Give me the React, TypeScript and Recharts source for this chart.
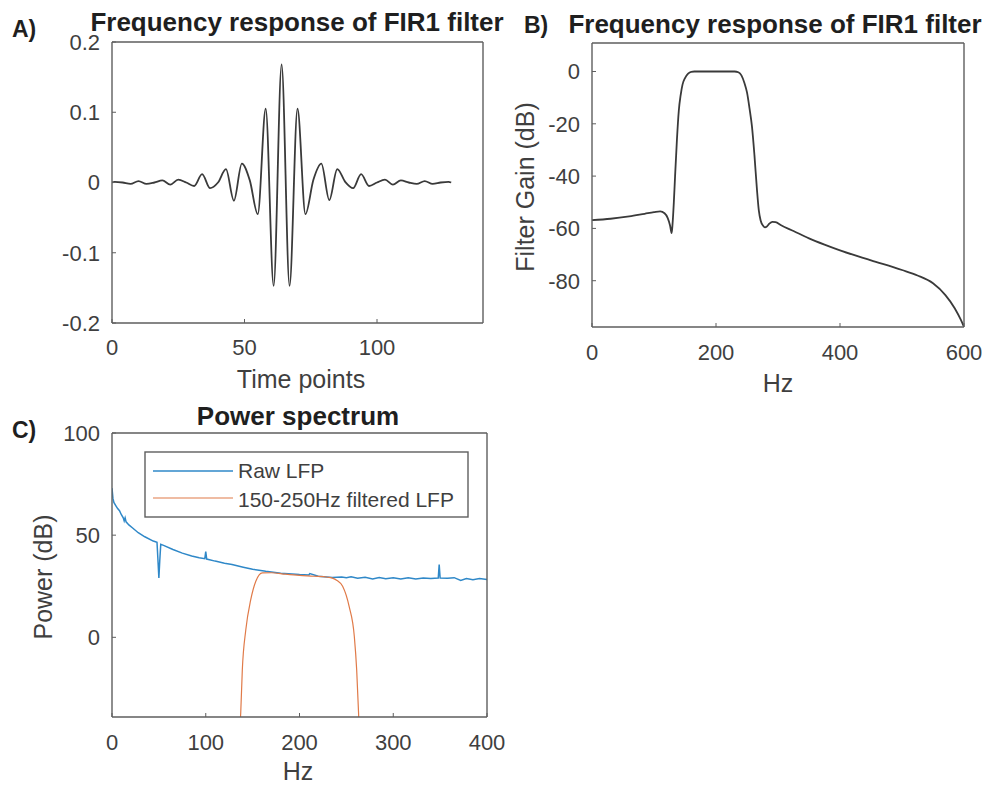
import React from 'react';
import { LineChart, Line, XAxis, YAxis } from 'recharts';

const FONT = '"Liberation Sans", Arial, Helvetica, sans-serif';
const AXIS = '#5e5e5e';
const TXT = '#3f3f3f';
const INK = '#1f1f1f';
const BLUE = '#2f88c8';
const ORANGE = '#e07a48';

// A) FIR1 impulse response (extrema read off the figure)
const firTime = [0, 1, 4, 7, 10, 13, 16, 19, 22, 25, 28, 31, 34, 37, 40, 43, 46, 49, 52, 55, 58, 61, 64,
  67, 70, 73, 76, 79, 82, 85, 88, 91, 94, 97, 100, 103, 106, 109, 112, 115, 118, 121, 124, 127, 128];
const firCoef = [0, 0.001, 0.0, -0.002, 0.002, -0.002, 0.0, 0.003, -0.003, 0.004, 0.0, -0.005, 0.012, -0.008, 0.0,
  0.019, -0.026, 0.027, 0.003, -0.045, 0.105, -0.147, 0.168,
  -0.147, 0.105, -0.045, 0.004, 0.027, -0.025, 0.019, 0.001, -0.008, 0.012, -0.005, 0.0, 0.004, -0.003,
  0.003, 0.0, -0.002, 0.002, -0.002, 0.0, 0.001, 0.0];
const firXTicks = [0, 50, 100];
const firYTicks = [-0.2, -0.1, 0, 0.1, 0.2];

// B) filter gain
const gainHz = [0, 30, 60, 85, 100, 110, 117, 122, 126, 128.5, 130, 132, 134, 137, 140, 143, 146, 150, 155, 160,
  165, 200, 230, 236, 241, 246, 250, 254, 258, 262, 266, 269, 272, 276, 279, 282, 286, 291, 296, 305, 325,
  350, 375, 400, 450, 500, 525, 550, 570, 585, 595, 600];
const gainDb = [-56.8, -56.3, -55.4, -54.4, -53.8, -53.5, -54.2, -56, -59, -61.8, -58, -50, -40, -26, -15, -9, -5,
  -2.5, -0.8, -0.1, 0, 0, 0, -0.3, -1.5, -4.5, -8, -14, -21, -32, -45, -53, -57, -59, -59.6, -59.3, -58.2,
  -57.5, -57.6, -58.8, -61, -63.8, -66.2, -68.4, -72.2, -75.9, -78, -81, -85.5, -90.5, -95, -97.7];
const gainXTicks = [0, 200, 400, 600];
const gainYTicks = [-80, -60, -40, -20, 0];

// C) power spectrum
const rawHz = [0, 1, 2, 4, 6, 8, 10, 12, 13, 14, 15, 18, 22, 28, 35, 44, 48, 49, 50, 51, 52, 55, 65, 75, 85, 93,
  99, 100, 101, 110, 120, 128, 140, 150, 164, 180, 200, 210, 211, 220, 235, 245, 250, 255, 262, 270, 278, 285,
  292, 300, 308, 316, 324, 332, 340, 348, 349, 350, 358, 365, 372, 378, 385, 392, 400];
const rawDb = [73, 68, 66, 64.5, 63, 62, 60, 58.5, 57, 58.5, 56.5, 55, 53.5, 51.2, 49.2, 47.1, 46.5, 38, 29, 38,
  45.5, 45, 43, 41.2, 39.8, 38.9, 38.5, 42, 38.3, 37.3, 36.3, 35.6, 34.3, 33.3, 32.3, 31.4, 30.7, 30.5, 31.2,
  29.9, 29.3, 29.5, 29.2, 29.6, 28.9, 29.4, 28.6, 29.3, 28.7, 29.1, 28.5, 29.2, 28.6, 29, 28.8, 29, 35.6, 29,
  28.9, 29.2, 27.8, 28.8, 28.2, 28.8, 28.3];
const filtHz = [135, 137.3, 139, 142.7, 148, 153.4, 160.4, 170, 185, 200, 215, 230, 235, 240, 246, 253, 258.5,
  261, 263, 264];
const filtDb = [-50, -37, -16, 3.6, 18.4, 27.4, 31.5, 31.6, 30.9, 30.3, 29.9, 29.4, 29, 27.8, 25, 15, 0.3,
  -16, -37, -50];
const psdXTicks = [0, 100, 200, 300, 400];
const psdYTicks = [0, 50, 100];

const zip = (xs: number[], ys: number[]) => xs.map((x, i) => ({ x, y: ys[i] }));
const firData = zip(firTime, firCoef);
const gainData = zip(gainHz, gainDb);
const rawData = zip(rawHz, rawDb);
const filtData = zip(filtHz, filtDb);

const tickStyle = { fill: TXT, fontSize: 22, fontFamily: FONT };
const axisLine = { stroke: AXIS, strokeWidth: 1.4 };

// box with inward ticks on all four sides, like matlab's "box on"
// (top / right axes need 1px of room or recharts skips them)
const frame = (xDomain: number[], yDomain: number[], xTicks: number[], yTicks: number[],
  xHeight: number, yWidth: number, xMargin: number) => [
  <XAxis key="xb" xAxisId="b" dataKey="x" type="number" domain={xDomain} ticks={xTicks} interval={0}
    height={xHeight} tickSize={-4} tickMargin={xMargin} axisLine={axisLine} tickLine={{ stroke: AXIS }}
    tick={tickStyle} allowDataOverflow />,
  <XAxis key="xt" xAxisId="t" orientation="top" dataKey="x" type="number" domain={xDomain} ticks={xTicks}
    interval={0} height={1} tickSize={-4} axisLine={axisLine} tickLine={{ stroke: AXIS }} tick={false}
    allowDataOverflow />,
  <YAxis key="yl" yAxisId="l" dataKey="y" type="number" domain={yDomain} ticks={yTicks} interval={0}
    width={yWidth} tickSize={-4} tickMargin={16} axisLine={axisLine} tickLine={{ stroke: AXIS }}
    tick={tickStyle} allowDataOverflow />,
  <YAxis key="yr" yAxisId="r" orientation="right" dataKey="y" type="number" domain={yDomain} ticks={yTicks}
    interval={0} width={1} tickSize={-4} axisLine={axisLine} tickLine={{ stroke: AXIS }} tick={false}
    allowDataOverflow />,
];

const pos = (left: number, top: number): React.CSSProperties => ({ position: 'absolute', left, top });

export default function App() {
  return (
    <div style={{ position: 'absolute', left: 0, top: 0, width: 987, height: 786, background: '#fff', fontFamily: FONT }}>
      <div style={pos(0, 0)}>
        <LineChart width={490} height={400} margin={{ top: 41, right: 6, bottom: 0, left: 0 }}>
          {frame([0, 140], [-0.2, 0.2], firXTicks, firYTicks, 77, 112, 20)}
          <Line xAxisId="b" yAxisId="l" data={firData} dataKey="y" type="monotone" stroke="#3a3a3a"
            strokeWidth={1.8} dot={false} isAnimationActive={false} />
        </LineChart>
      </div>

      <div style={pos(490, 0)}>
        <LineChart width={497} height={400} margin={{ top: 42, right: 22, bottom: 0, left: 0 }}>
          {frame([0, 600], [-97.7, 10.9], gainXTicks, gainYTicks, 73, 102, 21)}
          <Line xAxisId="b" yAxisId="l" data={gainData} dataKey="y" type="monotone" stroke="#3a3a3a"
            strokeWidth={1.8} dot={false} isAnimationActive={false} />
        </LineChart>
      </div>

      <div style={pos(0, 400)}>
        <LineChart width={530} height={386} margin={{ top: 32, right: 42, bottom: 0, left: 0 }}>
          {frame([0, 400], [-39, 100], psdXTicks, psdYTicks, 69, 112, 21)}
          <Line xAxisId="b" yAxisId="l" data={rawData} dataKey="y" type="linear" stroke={BLUE}
            strokeWidth={1.5} dot={false} isAnimationActive={false} />
          <Line xAxisId="b" yAxisId="l" data={filtData} dataKey="y" type="monotone" stroke={ORANGE}
            strokeWidth={1.2} dot={false} isAnimationActive={false} />
        </LineChart>
      </div>

      <svg width={987} height={786} style={{ position: 'absolute', left: 0, top: 0, pointerEvents: 'none' }}
        fontFamily={FONT}>
        <text x={12} y={37} fontSize={23} fontWeight="bold" fill={INK}>A)</text>
        <text x={297} y={31} fontSize={26} fontWeight="bold" fill={INK} textAnchor="middle">
          Frequency response of FIR1 filter
        </text>
        <text x={301} y={388} fontSize={25} fill={TXT} textAnchor="middle">Time points</text>

        <text x={524} y={33} fontSize={23} fontWeight="bold" fill={INK}>B)</text>
        <text x={775} y={33} fontSize={26} fontWeight="bold" fill={INK} textAnchor="middle">
          Frequency response of FIR1 filter
        </text>
        <text x={778} y={392} fontSize={25} fill={TXT} textAnchor="middle">Hz</text>
        <text x={525} y={187} fontSize={25} fill={TXT} textAnchor="middle" dominantBaseline="central"
          transform="rotate(-90 525 187)">Filter Gain (dB)</text>

        <text x={12} y={438} fontSize={23} fontWeight="bold" fill={INK}>C)</text>
        <text x={298} y={425} fontSize={26} fontWeight="bold" fill={INK} textAnchor="middle">Power spectrum</text>
        <text x={298} y={780} fontSize={25} fill={TXT} textAnchor="middle">Hz</text>
        <text x={43} y={577} fontSize={25} fill={TXT} textAnchor="middle" dominantBaseline="central"
          transform="rotate(-90 43 577)">Power (dB)</text>

        <rect x={145} y={452} width={323} height={65} fill="#fff" stroke={AXIS} strokeWidth={1.4} />
        <line x1={153} y1={471} x2={233} y2={471} stroke={BLUE} strokeWidth={1.5} />
        <line x1={153} y1={498} x2={233} y2={498} stroke={ORANGE} strokeWidth={1.2} />
        <text x={238} y={478} fontSize={21} fill={TXT}>Raw LFP</text>
        <text x={238} y={507} fontSize={21} fill={TXT}>150-250Hz filtered LFP</text>
      </svg>
    </div>
  );
}
